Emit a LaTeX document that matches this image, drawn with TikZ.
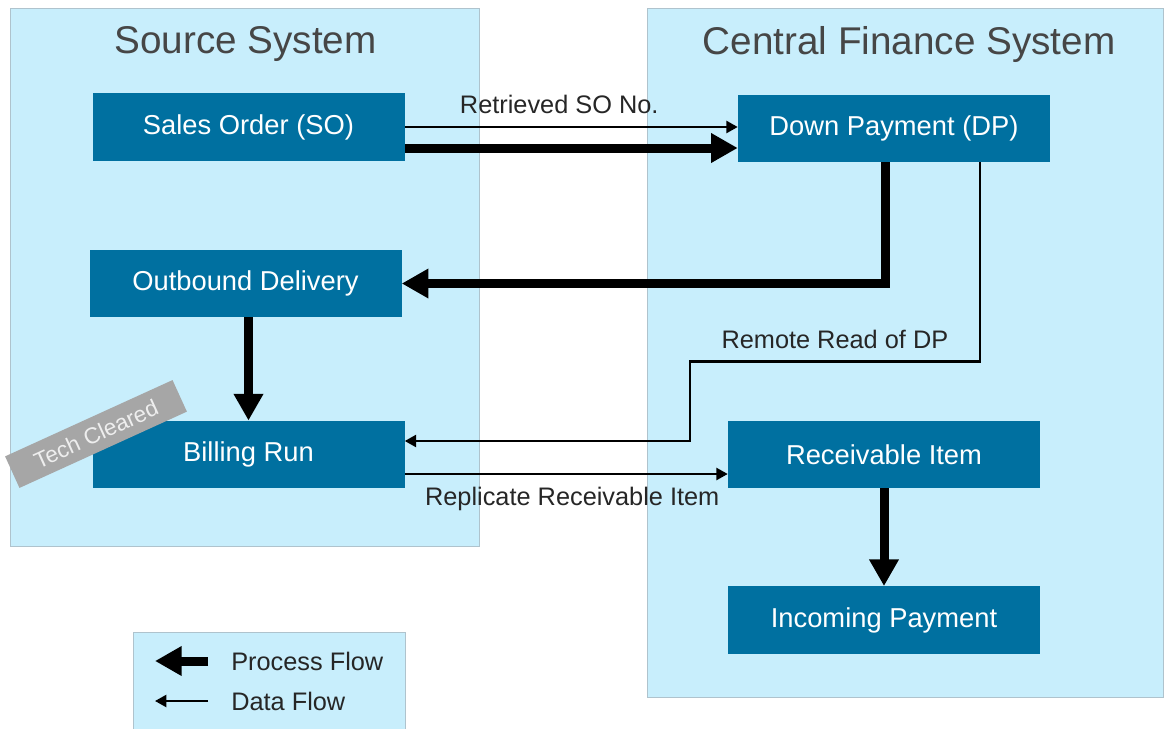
\documentclass[tikz,border=0pt]{standalone}
\usepackage{fontspec}
\setmainfont{Liberation Sans}
\usetikzlibrary{arrows.meta,calc}
\definecolor{panelfill}{RGB}{200,238,252}
\definecolor{panelline}{RGB}{175,195,205}
\definecolor{boxblue}{RGB}{0,112,160}
\definecolor{titlegray}{RGB}{70,70,70}
\definecolor{taggray}{RGB}{166,166,166}
\definecolor{tagtext}{RGB}{238,238,238}
\begin{document}
\begin{tikzpicture}[x=0.75pt,y=-0.75pt,
  panel/.style={fill=panelfill,draw=panelline,line width=0.75pt},
  title/.style={text=titlegray,font=\fontsize{29}{33}\selectfont,inner sep=0pt},
  stepbox/.style={fill=boxblue,text=white,minimum width=234pt,minimum height=50.5pt,inner sep=0pt,font=\fontsize{20.5}{24}\selectfont},
  process/.style={line width=6.75pt,-{Triangle[length=20pt,width=21pt]}},
  data/.style={line width=1.7pt,-{Triangle[length=8.5pt,width=9pt]}},
  lbl/.style={text=black!85,font=\fontsize{19}{22}\selectfont,inner sep=0pt},
]
\useasboundingbox (0,0) rectangle (1165,729);
% panels
\path[panel] (10,8) rectangle (479,546);
\path[panel] (647,8) rectangle (1163,697);
\path[panel] (133,632) rectangle (405,735);
\node[title] (t1) at (245.5,44) {Source System};
\node[title] (t2) at (909,44) {Central Finance System};
% boxes
\node[stepbox] (so) at (248.5,127) {Sales Order (SO)};
\node[stepbox] (dp) at (894,128.5) {Down Payment (DP)};
\node[stepbox] (od) at (245.5,283.5) {Outbound Delivery};
\node[stepbox] (br) at (248.5,454.5) {Billing Run};
\node[stepbox] (ri) at (884,454.5) {Receivable Item};
\node[stepbox] (ip) at (884,620) {Incoming Payment};
% tech cleared tag
\node[fill=taggray,text=tagtext,rotate=24.5,minimum width=138pt,minimum height=26pt,inner sep=0pt,font=\fontsize{17}{20}\selectfont] (tag) at (96,434) {Tech Cleared};
% flows
\draw[data] (so.east) -- node[lbl,above=9pt,xshift=-9pt] (l1) {Retrieved SO No.} ($(dp.west)+(0,-1.5)$);
\draw[process] ($(so.east)+(0,21)$) -- ($(dp.west)+(0,19.5)$);
\draw[process] ($(dp.south)+(-9,0)$) |- (od.east);
\draw[data] ($(dp.south)+(86,0)$) -- ++(0,199) coordinate (c1) -| ($(br.east)+(285,-13.5)$) coordinate (c2) -- ($(br.east)+(0,-13.5)$);
\node[lbl,above=9pt] (l2) at ($(c1)!0.5!(c1-|c2)$) {Remote Read of DP};
\draw[process] (br.north |- od.south) -- (br.north);
\draw[data] ($(br.east)+(0,19.5)$) -- node[lbl,below=9pt,xshift=4.5pt] (l3) {Replicate Receivable Item} ($(ri.west)+(0,19.5)$);
\draw[process] (ri.south) -- (ip.north);
% legend
\coordinate (lp1) at (208,661);
\coordinate (lp2) at (155,661);
\coordinate (ld1) at (208,701);
\coordinate (ld2) at (155,701);
\draw[process] (lp1) -- (lp2);
\draw[data] (ld1) -- (ld2);
\node[lbl,anchor=west] (lg1) at (231,661) {Process Flow};
\node[lbl,anchor=west] (lg2) at (231,701) {Data Flow};
\end{tikzpicture}
\end{document}
